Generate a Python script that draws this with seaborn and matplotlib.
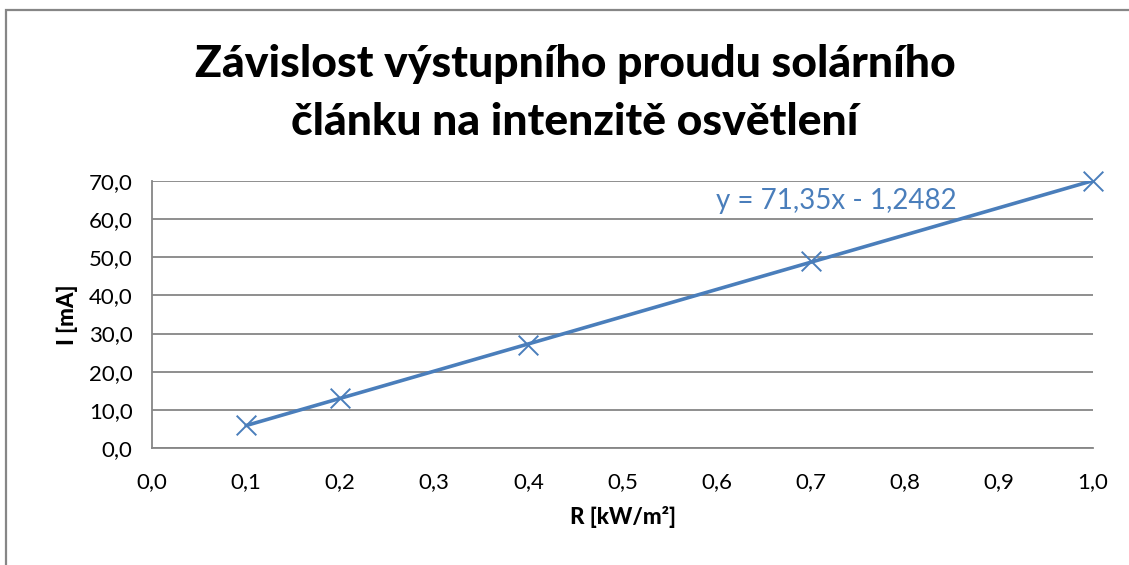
import matplotlib
matplotlib.use("Agg")
import matplotlib.pyplot as plt
from matplotlib.ticker import FuncFormatter, MultipleLocator
from matplotlib.patches import Rectangle
import numpy as np
import pandas as pd
import seaborn as sns

# data
intensity = [0.1, 0.2, 0.4, 0.7, 1.0]        # R [kW/m2]
current = [6.0, 13.0, 27.0, 49.0, 70.0]      # I [mA]
equation = "y = 71,35x - 1,2482"
title = "Závislost výstupního proudu solárního\nčlánku na intenzitě osvětlení"

BLUE = "#4A7EBB"
GRAY = "#868686"

sns.set_theme(style="white")
plt.rcParams['font.family'] = ['Lato', 'DejaVu Sans']

df = pd.DataFrame({'R': intensity, 'I': current})

fig = plt.figure(figsize=(11.29, 5.65), dpi=100)
ax = fig.add_axes([152 / 1129, 1 - 448 / 565, (1093 - 152) / 1129, (448 - 181) / 565])

sns.regplot(data=df, x='R', y='I', ax=ax, scatter=False, ci=None,
            line_kws=dict(color=BLUE, lw=2.6))
sns.scatterplot(data=df, x='R', y='I', ax=ax, marker='x', s=200,
                color=BLUE, linewidth=1.4, zorder=5, clip_on=False)

ax.set_xlim(0, 1.0)
ax.set_ylim(0, 70)
ax.xaxis.set_major_locator(MultipleLocator(0.1))
ax.yaxis.set_major_locator(MultipleLocator(10))
comma = FuncFormatter(lambda v, p: f"{v:.1f}".replace('.', ','))
ax.xaxis.set_major_formatter(comma)
ax.yaxis.set_major_formatter(comma)

ax.grid(axis='y', color=GRAY, lw=1.3)
ax.set_axisbelow(True)
for side in ['top', 'right']:
    ax.spines[side].set_visible(False)
for side in ['left', 'bottom']:
    ax.spines[side].set_color(GRAY)
    ax.spines[side].set_linewidth(1.3)
ax.tick_params(axis='both', direction='out', color=GRAY, width=1.3,
               labelsize=16, colors='black')
ax.tick_params(axis='x', length=6, pad=11)
ax.tick_params(axis='y', length=7, pad=7)
for t in ax.get_xticklabels() + ax.get_yticklabels():
    t.set_color('black')

ax.set_xlabel("R [kW/m²]", fontsize=16, fontweight='black', color='black', labelpad=10)
ax.set_ylabel("I [mA]", fontsize=16, fontweight='black', color='black', labelpad=8)

ax.text(0.599, 64.8, equation, color=BLUE, fontsize=20, ha='left', va='center')

fig.text(575 / 1129, 1 - 93 / 565, title, ha='center', va='center',
         fontsize=32, fontweight='black', color='black', linespacing=1.55)

# chart area border (extends past the image edges)
fig.patches.append(Rectangle((6 / 1129, -0.1), 1.2, 1 - 10 / 565 + 0.1,
                             transform=fig.transFigure, fill=False,
                             edgecolor=GRAY, lw=1.6))

fig.savefig("out.png", dpi=100)
